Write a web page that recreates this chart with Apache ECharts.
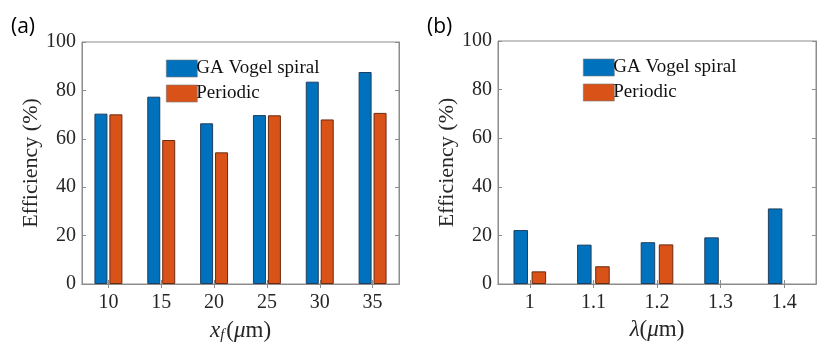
<!DOCTYPE html>
<html lang="en">
<head>
    <meta charset="UTF-8">
    <title>Efficiency</title>
    <style>
        html, body { margin: 0; padding: 0; background: #fff; }
        #box { width: 830px; height: 345px; }
    </style>
</head>
<body>
    <div id="box"></div>
    <script src="https://cdn.jsdelivr.net/npm/echarts@6/dist/echarts.min.js"></script>
    <script>
        // data
        var xfCats = ['10', '15', '20', '25', '30', '35'];
        var vogelA = [70.4, 77.4, 66.4, 69.8, 83.6, 87.6];
        var periodicA = [70.1, 59.5, 54.4, 69.7, 68.0, 70.7];

        var lamCats = ['1', '1.1', '1.2', '1.3', '1.4'];
        var vogelB = [22.2, 16.2, 17.2, 19.2, 31.1];
        var periodicB = [5.2, 7.3, 16.3, 0, 0];

        var yTicks = [0, 20, 40, 60, 80, 100];

        var serif = '"Liberation Serif", "DejaVu Serif", serif';
        var axisGray = '#8c8c8c';
        var txt = '#262626';
        var blue = '#0072BD';
        var red = '#D95319';

        var chart = echarts.init(document.getElementById('box'));

        function yAx(grid, pos, show) {
            return {
                type: 'value', gridIndex: grid, position: pos,
                min: yTicks[0], max: yTicks[yTicks.length - 1], interval: 20,
                name: show ? 'Efficiency (%)' : '',
                nameLocation: 'middle', nameGap: 36,
                nameTextStyle: { fontFamily: serif, fontSize: 22, color: txt },
                axisLine: { show: true, lineStyle: { color: axisGray } },
                axisTick: { show: true, inside: true, length: 4, lineStyle: { color: axisGray } },
                axisLabel: { show: show, margin: 6, fontFamily: serif, fontSize: 20, color: txt },
                splitLine: { show: false }
            };
        }

        function xAx(grid, cats, pos, name) {
            return {
                type: 'category', gridIndex: grid, position: pos, data: cats,
                name: name || '', nameLocation: 'middle', nameGap: 34,
                nameTextStyle: {
                    fontFamily: serif, fontSize: 22, color: txt,
                    rich: {
                        i: { fontFamily: serif, fontStyle: 'italic', fontSize: 23, color: txt },
                        s: { fontFamily: serif, fontStyle: 'italic', fontSize: 15, color: txt, verticalAlign: 'bottom', padding: [10, 2, 0, 0] },
                        n: { fontFamily: serif, fontSize: 23, color: txt }
                    }
                },
                axisLine: { show: true, lineStyle: { color: axisGray } },
                axisTick: { show: true, inside: true, length: 4, alignWithLabel: true, lineStyle: { color: axisGray } },
                axisLabel: { show: pos === 'bottom', margin: 9, fontFamily: serif, fontSize: 20, color: txt },
                splitLine: { show: false }
            };
        }

        // zero-height bars are not drawn in the original, so drop their edge
        function items(data) {
            return data.map(function (v) {
                return v === 0 ? { value: 0, itemStyle: { borderWidth: 0 } } : v;
            });
        }

        function bars(name, data, color, edge, xi, yi, w, gap) {
            return {
                name: name, type: 'bar', xAxisIndex: xi, yAxisIndex: yi,
                data: items(data), barWidth: w, barGap: gap,
                itemStyle: { color: color, borderColor: edge, borderWidth: 1 },
                emphasis: { disabled: true }
            };
        }

        var legendCommon = {
            orient: 'vertical', itemWidth: 31, itemHeight: 17, itemGap: 6,
            icon: 'rect',
            data: ['GA Vogel spiral', 'Periodic'],
            itemStyle: { borderColor: '#777', borderWidth: 0.6 },
            textStyle: { fontFamily: serif, fontSize: 19, color: '#111', padding: [0, 0, 0, -6] }
        };

        var panelFont = { fontFamily: '"Open Sans", "Noto Sans", sans-serif', fontSize: 21, fontWeight: 'normal', color: '#000' };

        var option = {
            animation: false,
            title: [
                { text: '(a)', left: 6, top: 12, textStyle: panelFont },
                { text: '(b)', left: 422, top: 12, textStyle: panelFont }
            ],
            legend: [
                Object.assign({ left: 161, top: 54 }, legendCommon),
                Object.assign({ left: 578, top: 53 }, legendCommon)
            ],
            grid: [
                { left: 82, top: 42, width: 317, height: 242, outerBoundsMode: 'none', containLabel: false, show: true, borderColor: axisGray, borderWidth: 1 },
                { left: 498, top: 41, width: 318, height: 243, outerBoundsMode: 'none', containLabel: false, show: true, borderColor: axisGray, borderWidth: 1 }
            ],
            xAxis: [
                xAx(0, xfCats, 'bottom', '{i|x}{s|f}{n|(}{i|μ}{n|m)}'),
                xAx(0, xfCats, 'top'),
                xAx(1, lamCats, 'bottom', '{i|λ}{n|(}{i|μ}{n|m)}'),
                xAx(1, lamCats, 'top')
            ],
            yAxis: [
                yAx(0, 'left', true),
                yAx(0, 'right', false),
                yAx(1, 'left', true),
                yAx(1, 'right', false)
            ],
            series: [
                bars('GA Vogel spiral', vogelA, blue, '#1f3f5f', 0, 0, 13, '15%'),
                bars('Periodic', periodicA, red, '#6b2a12', 0, 0, 13, '15%'),
                bars('GA Vogel spiral', vogelB, blue, '#1f3f5f', 2, 2, 14.5, '25%'),
                bars('Periodic', periodicB, red, '#6b2a12', 2, 2, 14.5, '25%')
            ]
        };

        option && chart.setOption(option);
    </script>
</body>
</html>
